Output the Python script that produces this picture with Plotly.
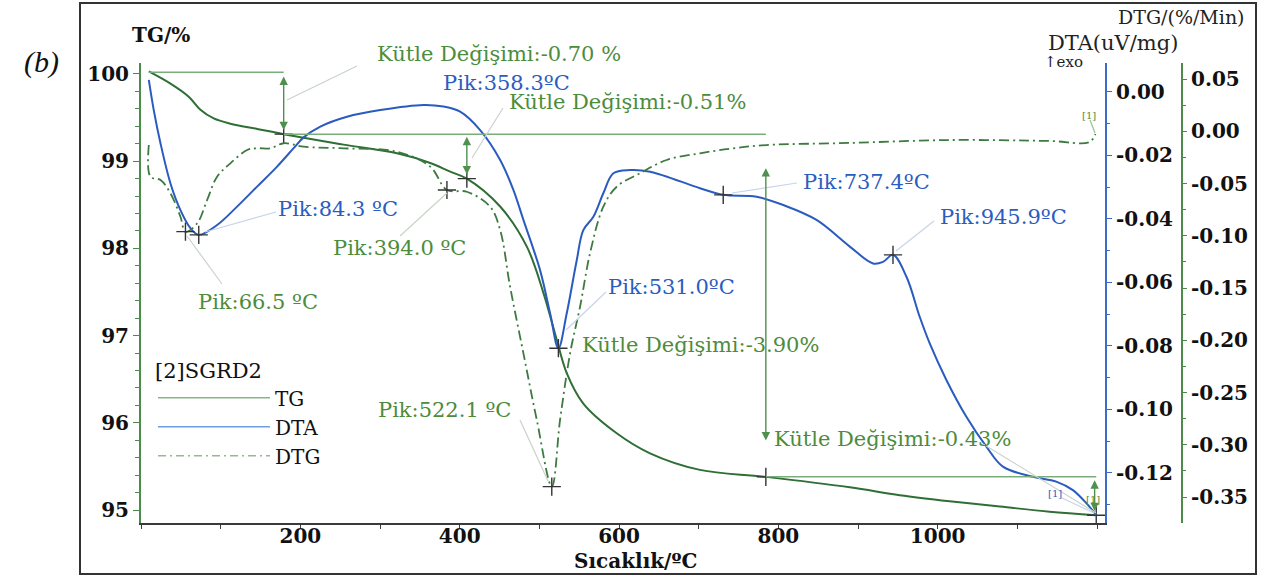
import plotly.graph_objects as go

W, H = 1263, 577
def px(x):
    return x / W
def py(y):
    return 1 - y / H

# ---------------- data ----------------
tg_T = [9.8, 37.0, 59.9, 74.6, 91.3, 112.2, 145.7, 179.1, 204.1, 254.3, 321.3, 363.0,
        388.1, 409.0, 450.8, 484.3, 505.1, 521.9, 534.4, 555.2, 597.1, 638.9, 701.6,
        784.3, 889.7, 952.4, 1015.0, 1078.0, 1140.4, 1199.0]
tg_val = [100.03, 99.89, 99.74, 99.59, 99.49, 99.43, 99.37, 99.31, 99.27, 99.19, 99.09, 98.98,
          98.88, 98.80, 98.48, 98.02, 97.49, 96.95, 96.57, 96.22, 95.88, 95.65, 95.46,
          95.38, 95.26, 95.17, 95.10, 95.04, 94.98, 94.94]

dta_T = [9.8, 16.0, 24.5, 37.0, 49.5, 62.1, 72.5, 95.5, 120.6, 145.7, 170.8, 191.6, 204.1,
         225.1, 258.6, 300.3, 354.6, 379.7, 400.6, 425.7, 450.8, 467.5, 480.0, 500.9, 513.5,
         523.9, 534.4, 547.0, 555.2, 567.8, 580.3, 592.9, 613.8, 638.9, 701.6, 730.8, 772.7,
         806.0, 847.9, 889.7, 918.9, 931.4, 943.9, 960.8, 977.4, 990.0, 1010.9, 1036.0,
         1061.1, 1081.9, 1119.5, 1148.8, 1169.7, 1186.5, 1199.0]
dta_val = [0.0038, -0.0057, -0.0162, -0.0288, -0.0372, -0.0429, -0.0450, -0.0419, -0.0361,
           -0.0298, -0.0235, -0.0177, -0.0143, -0.0109, -0.0078, -0.0057, -0.0041, -0.0046,
           -0.0062, -0.0120, -0.0214, -0.0309, -0.0403, -0.0561, -0.0697, -0.0807, -0.0697,
           -0.0529, -0.0435, -0.0393, -0.0319, -0.0256, -0.0246, -0.0251, -0.0303, -0.0324,
           -0.0330, -0.0356, -0.0403, -0.0487, -0.0540, -0.0535, -0.0513, -0.0582, -0.0708,
           -0.0792, -0.0907, -0.1023, -0.1117, -0.1180, -0.1212, -0.1227, -0.1254, -0.1295,
           -0.1332]

dtg_T = [9.8, 11.9, 24.5, 37.0, 49.5, 55.8, 70.5, 83.0, 95.5, 112.2, 133.2, 145.7, 162.4,
         179.1, 204.1, 254.3, 321.3, 363.0, 384.0, 409.0, 438.2, 450.8, 463.3, 480.0, 496.8,
         515.6, 526.0, 538.6, 551.1, 563.6, 580.3, 597.1, 626.3, 659.8, 701.6, 743.3, 785.2,
         889.7, 1015.0, 1140.4, 1190.6, 1198.0]
dtg_val = [-0.0132, -0.0435, -0.0467, -0.0594, -0.0818, -0.0961, -0.0881, -0.0658, -0.0435,
           -0.0307, -0.0179, -0.0163, -0.0163, -0.0115, -0.0148, -0.0163, -0.0196, -0.0339,
           -0.0562, -0.0579, -0.0722, -0.0945, -0.1488, -0.2125, -0.2763, -0.3401, -0.2763,
           -0.2125, -0.1679, -0.1168, -0.0722, -0.0531, -0.0402, -0.0275, -0.0211, -0.0163,
           -0.0132, -0.0112, -0.0084, -0.0093, -0.0103, -0.0026]

x_ticks = [200, 400, 600, 800, 1000]
tg_ticks = [95, 96, 97, 98, 99, 100]
dta_ticks = [0.00, -0.02, -0.04, -0.06, -0.08, -0.10, -0.12]
dtg_ticks = [0.05, 0.00, -0.05, -0.10, -0.15, -0.20, -0.25, -0.30, -0.35]

# peak markers
dta_peak_T = [72.5, 523.9, 730.8, 943.9]
dta_peak_v = [-0.0450, -0.0807, -0.0324, -0.0513]
dtg_peak_T = [55.8, 384.0, 515.6]
dtg_peak_v = [-0.0961, -0.0562, -0.3401]
tg_mark_T = [179.1, 409.0, 784.3, 1199.0]
tg_mark_v = [99.31, 98.80, 95.38, 94.94]

GREEN = '#2f6e35'
GREEN_T = '#4c8c3c'
BLUE = '#2a5bbf'
BLUE_T = '#2b5cc0'
SERIF = 'DejaVu Serif'

fig = go.Figure()
fig.add_trace(go.Scatter(x=tg_T, y=tg_val, mode='lines', line=dict(color=GREEN, width=2),
                         yaxis='y', showlegend=False, line_shape='spline'))
fig.add_trace(go.Scatter(x=dta_T, y=dta_val, mode='lines', line=dict(color=BLUE, width=2),
                         yaxis='y2', showlegend=False, line_shape='spline'))
fig.add_trace(go.Scatter(x=dtg_T, y=dtg_val, mode='lines',
                         line=dict(color='#3c7a40', width=1.8, dash='10px,4px,2px,4px'),
                         yaxis='y3', showlegend=False, line_shape='spline'))

mk = dict(symbol='cross-thin', size=13, line=dict(color='#333', width=1.4))
fig.add_trace(go.Scatter(x=dta_peak_T, y=dta_peak_v, mode='markers', marker=mk, yaxis='y2', showlegend=False))
fig.add_trace(go.Scatter(x=dtg_peak_T, y=dtg_peak_v, mode='markers', marker=mk, yaxis='y3', showlegend=False))
fig.add_trace(go.Scatter(x=tg_mark_T, y=tg_mark_v, mode='markers', marker=mk, yaxis='y', showlegend=False))

# legend entries
fig.add_trace(go.Scatter(x=[None], y=[None], mode='lines', name='TG', line=dict(color='#86b886', width=1.5)))
fig.add_trace(go.Scatter(x=[None], y=[None], mode='lines', name='DTA', line=dict(color='#6f9fe2', width=1.5)))
fig.add_trace(go.Scatter(x=[None], y=[None], mode='lines', name='DTG',
                         line=dict(color='#9ab59a', width=1.5, dash='8px,4px,2px,4px')))

tickfont = dict(family=SERIF, size=20, color='#111', weight='bold')

fig.update_layout(
    width=W, height=577, margin=dict(l=0, r=0, t=0, b=0),
    paper_bgcolor='white', plot_bgcolor='white',
    xaxis=dict(domain=[px(141), px(1105)], range=[0, 1210], tickvals=x_ticks,
               showline=True, linecolor='#3a3a3a', linewidth=2, ticks='outside', ticklen=4,
               tickcolor='#3a3a3a', tickfont=tickfont, showgrid=False, zeroline=False,
               ticklabelstandoff=-10,
               minor=dict(dtick=100, ticks='outside', ticklen=4, tickcolor='#3a3a3a')),
    yaxis=dict(domain=[py(523), py(63)], range=[94.851, 100.126], tickvals=tg_ticks,
               showline=True, linecolor='#4d8b4d', linewidth=2, ticks='outside', ticklen=6,
               tickcolor='#4d8b4d', tickfont=tickfont, showgrid=False, zeroline=False,
               minor=dict(dtick=0.2, ticks='outside', ticklen=4, tickcolor='#4d8b4d')),
    yaxis2=dict(overlaying='y', side='right', anchor='x', range=[-0.13575, 0.00913],
                tickvals=dta_ticks, ticktext=['%.2f' % v for v in dta_ticks],
                showline=True, linecolor='#3b6cc9', linewidth=2, ticks='outside', ticklen=5,
                tickcolor='#3b6cc9', tickfont=tickfont, showgrid=False, zeroline=False,
                minor=dict(dtick=0.01, ticks='outside', ticklen=3, tickcolor='#3b6cc9')),
    yaxis3=dict(overlaying='y', side='right', anchor='free', position=px(1182),
                range=[-0.37488, 0.06531],
                tickvals=dtg_ticks, ticktext=['%.2f' % v for v in dtg_ticks],
                showline=True, linecolor='#4d8b4d', linewidth=2, ticks='outside', ticklen=4,
                tickcolor='#4d8b4d', tickfont=tickfont, showgrid=False, zeroline=False,
                minor=dict(dtick=0.025, ticks='outside', ticklen=3, tickcolor='#4d8b4d')),
    legend=dict(x=px(153), y=py(351), xanchor='left', yanchor='top', bgcolor='rgba(0,0,0,0)',
                font=dict(family=SERIF, size=20, color='#111'), itemwidth=112,
                title=dict(text='[2]SGRD2', font=dict(family=SERIF, size=21, color='#111')),
                tracegroupgap=0),
)

shapes = []
# outer frame
shapes.append(dict(type='rect', xref='paper', yref='paper', x0=px(80), x1=px(1256), y0=py(574), y1=py(3),
                   line=dict(color='#333', width=2)))
# mass-change horizontal lines (TG axis)
hl = dict(color='#79ad79', width=1.5)
shapes.append(dict(type='line', xref='x', yref='y', x0=9.8, x1=179.1, y0=100.02, y1=100.02, line=hl))
shapes.append(dict(type='line', xref='x', yref='y', x0=179.1, x1=784.3, y0=99.31, y1=99.31, line=hl))
shapes.append(dict(type='line', xref='x', yref='y', x0=784.3, x1=1199.0, y0=95.38, y1=95.38, line=hl))
# leader lines (pixel positions)
leaders = [((287, 100), (357, 66), '#c9d3c9'),
           ((472, 158), (503, 108), '#c9d3c9'),
           ((205, 232), (276, 212), '#c8d4ea'),
           ((187, 236), (222, 284), '#c9d3c9'),
           ((447, 193), (400, 236), '#c9d3c9'),
           ((566, 330), (606, 292), '#c8d4ea'),
           ((520, 420), (548, 481), '#c9d3c9'),
           ((732, 193), (797, 183), '#c8d4ea'),
           ((896, 251), (934, 221), '#c8d4ea'),
           ((983, 444), (1096, 513), '#c9d3c9'),
           ((1062, 498), (1094, 513), '#c8d4ea'),
           ((1090, 120), (1095, 133), '#9bbf9b')]
for (a, b, c) in leaders:
    shapes.append(dict(type='line', xref='paper', yref='paper', x0=px(a[0]), y0=py(a[1]),
                       x1=px(b[0]), y1=py(b[1]), line=dict(color=c, width=1.2)))

annotations = []
def arrow(T, v0, v1):
    annotations.append(dict(xref='x', yref='y', axref='x', ayref='y', x=T, y=v1, ax=T, ay=v0,
                            text='', showarrow=True, arrowhead=2, arrowside='end+start',
                            arrowsize=1.2, arrowwidth=1.4, arrowcolor='#4f8f4f',
                            standoff=0, startstandoff=0))
arrow(179.1, 99.34, 99.97)
arrow(409.0, 98.83, 99.28)
arrow(784.3, 95.78, 98.92)
arrow(1197.0, 94.97, 95.34)

def label(text, x, y, color, size=21, anchor='left', family=SERIF, weight='normal', style='normal'):
    annotations.append(dict(xref='paper', yref='paper', x=px(x), y=py(y), text=text,
                            showarrow=False, xanchor=anchor, yanchor='middle',
                            font=dict(family=family, size=size, color=color, weight=weight, style=style)))

label('Kütle Değişimi:-0.70 %', 375, 54, GREEN_T)
label('Pik:358.3ºC', 441, 83, BLUE_T)
label('Kütle Değişimi:-0.51%', 507, 102, GREEN_T)
label('Pik:84.3 ºC', 276, 209, BLUE_T)
label('Pik:394.0 ºC', 331, 248, GREEN_T)
label('Pik:66.5 ºC', 196, 302, GREEN_T)
label('Pik:531.0ºC', 606, 287, BLUE_T)
label('Kütle Değişimi:-3.90%', 580, 345, GREEN_T)
label('Pik:522.1 ºC', 376, 410, GREEN_T)
label('Pik:737.4ºC', 801, 182, BLUE_T)
label('Pik:945.9ºC', 938, 217, BLUE_T)
label('Kütle Değişimi:-0.43%', 772, 439, GREEN_T)
label('[1]', 1089, 116, GREEN_T, size=10, anchor='center')
label('[1]', 1055, 493, BLUE_T, size=10, anchor='center')
label('[1]', 1093, 499, GREEN_T, size=10, anchor='center')

label('TG/%', 130, 35, '#111', size=20, weight='bold')
label('DTG/(%/Min)', 1247, 17, '#222', size=19, anchor='right')
label('DTA(uV/mg)', 1180, 43, '#222', size=21, anchor='right')
label('↑exo', 1042, 62, '#222', size=15)
label('Sıcaklık/ºC', 635, 561, '#111', size=20, anchor='center', weight='bold')
label('(b)', 22, 62, '#111', size=30, family='Liberation Serif', style='italic')

fig.update_layout(shapes=shapes, annotations=annotations)
fig.write_html('out.html')
